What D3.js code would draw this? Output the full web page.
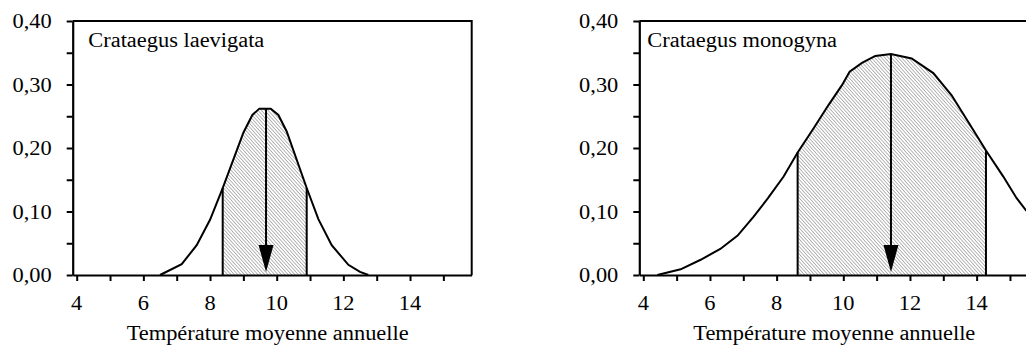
<!DOCTYPE html>
<html>
<head>
<meta charset="utf-8">
<script src="https://cdn.jsdelivr.net/npm/d3@7"></script>
<style>
  body { margin: 0; background: #fff; }
  svg text { font-family: "Liberation Serif", "Times New Roman", serif; font-size: 20px; fill: #000; }
</style>
</head>
<body>
<div id="chart"></div>
<script>
// values
const laevX = [6.5, 7.15, 7.6, 8.0, 8.38, 9.0, 9.27, 9.48, 9.82, 10.05, 10.3, 10.9, 11.25, 11.65, 12.15, 12.5, 12.75];
const laevY = [0, 0.017, 0.047, 0.087, 0.137, 0.224, 0.252, 0.262, 0.262, 0.252, 0.226, 0.137, 0.088, 0.047, 0.016, 0.005, 0];
const monoX = [4.42, 5.12, 5.72, 6.31, 6.83, 7.31, 7.74, 8.21, 8.63, 9.11, 9.56, 9.96, 10.19, 10.56, 10.96, 11.43, 12.05, 12.7, 13.25, 13.75, 14.28, 14.8, 15.2, 15.48, 15.9];
const monoY = [0, 0.009, 0.024, 0.041, 0.062, 0.092, 0.121, 0.155, 0.193, 0.231, 0.268, 0.299, 0.32, 0.334, 0.345, 0.348, 0.341, 0.318, 0.283, 0.241, 0.196, 0.155, 0.121, 0.102, 0.085];
const titles = ["Crataegus laevigata", "Crataegus monogyna"];
const bands = [[8.38, 10.9], [8.63, 14.28]];   // hatched range
const arrows = [9.68, 11.43];                 // optimum
const xTicks = d3.range(4, 16);
const xLabels = [4, 6, 8, 10, 12, 14];
const yTicks = d3.range(0, 0.401, 0.05);
const yLabels = [0, 0.1, 0.2, 0.3, 0.4];
const xTitle = "Température moyenne annuelle";

const W = 1026, H = 345;
const plotW = 399, plotH = 254, plotTop = 21;
const panelLeft = [72.7, 639.3];
const titleOffset = [15.6, 8];
const stretch = 1.12;

const svg = d3.select("#chart").append("svg")
  .attr("width", W).attr("height", H);

// hatch pattern
const defs = svg.append("defs");
defs.append("pattern")
  .attr("id", "hatch")
  .attr("patternUnits", "userSpaceOnUse")
  .attr("width", 2.5).attr("height", 2.5)
  .attr("patternTransform", "rotate(-42)")
  .append("line")
    .attr("x1", 0).attr("y1", 0).attr("x2", 0).attr("y2", 2.5)
    .attr("stroke", "#555").attr("stroke-width", 0.85);

// widen text like the original
function widen(sel) {
  sel.each(function() {
    const w = this.getComputedTextLength();
    d3.select(this).attr("textLength", w * stretch).attr("lengthAdjust", "spacingAndGlyphs");
  });
}

const fmt = d => d3.format(".2f")(d).replace(".", ",");

// linear interpolation along the curve
function valueAt(xs, ys, v) {
  const i = d3.bisectLeft(xs, v);
  if (i <= 0) return ys[0];
  if (i >= xs.length) return ys[ys.length - 1];
  const t = (v - xs[i - 1]) / (xs[i] - xs[i - 1]);
  return ys[i - 1] + t * (ys[i] - ys[i - 1]);
}

const series = [[laevX, laevY], [monoX, monoY]];

series.forEach(([xs, ys], k) => {
  const g = svg.append("g").attr("transform", "translate(" + panelLeft[k] + "," + plotTop + ")");
  const x = d3.scaleLinear().domain([3.88, 15.85]).range([0, plotW]);
  const y = d3.scaleLinear().domain([0, 0.4]).range([plotH, 0]);
  const pts = xs.map((d, i) => [d, ys[i]]);

  // hatched area, clipped to band
  const clipId = "clip" + k;
  defs.append("clipPath").attr("id", clipId)
    .append("rect")
      .attr("x", x(bands[k][0])).attr("y", 0)
      .attr("width", x(bands[k][1]) - x(bands[k][0])).attr("height", plotH);

  g.append("path")
    .datum(pts)
    .attr("clip-path", "url(#" + clipId + ")")
    .attr("fill", "url(#hatch)")
    .attr("d", d3.area().x(d => x(d[0])).y0(y(0)).y1(d => y(d[1])));

  // band edges
  bands[k].forEach(b => {
    g.append("line")
      .attr("x1", x(b)).attr("x2", x(b))
      .attr("y1", y(0)).attr("y2", y(valueAt(xs, ys, b)))
      .attr("stroke", "#000").attr("stroke-width", 2);
  });

  // curve
  g.append("path")
    .datum(pts)
    .attr("fill", "none").attr("stroke", "#000").attr("stroke-width", 2)
    .attr("d", d3.line().x(d => x(d[0])).y(d => y(d[1])));

  // arrow
  const ax = x(arrows[k]);
  const aTop = y(valueAt(xs, ys, arrows[k]));
  g.append("line")
    .attr("x1", ax).attr("x2", ax).attr("y1", aTop).attr("y2", plotH - 28)
    .attr("stroke", "#000").attr("stroke-width", 2);
  g.append("path")
    .attr("d", "M" + (ax - 7.5) + "," + (plotH - 30) + "L" + (ax + 7.5) + "," + (plotH - 30) + "L" + ax + "," + (plotH - 3) + "Z")
    .attr("fill", "#000");

  // frame: top and right
  g.append("path")
    .attr("d", "M0,0H" + plotW + "V" + plotH)
    .attr("fill", "none").attr("stroke", "#000").attr("stroke-width", 2);

  // y axis
  const yAxis = g.append("g")
    .call(d3.axisLeft(y).tickValues(yTicks).tickSize(6).tickSizeOuter(0).tickFormat(""));
  yAxis.select(".domain").attr("stroke-width", 2.2);
  yAxis.selectAll(".tick line").attr("stroke-width", 2);

  g.selectAll(".ylab")
    .data(yLabels)
    .enter().append("text")
      .attr("x", -21).attr("y", d => y(d)).attr("dy", "0.35em")
      .attr("text-anchor", "end")
      .text(fmt)
      .call(widen);

  // x axis
  const xAxis = g.append("g")
    .attr("transform", "translate(0," + plotH + ")")
    .call(d3.axisBottom(x).tickValues(xTicks).tickSize(6).tickSizeOuter(0).tickFormat(""));
  xAxis.select(".domain").attr("stroke-width", 2.2);
  xAxis.selectAll(".tick line").attr("stroke-width", 2);

  g.selectAll(".xlab")
    .data(xLabels)
    .enter().append("text")
      .attr("x", d => x(d)).attr("y", plotH + 35)
      .attr("text-anchor", "middle")
      .text(d => d)
      .call(widen);

  g.append("text")
    .attr("x", 195).attr("y", plotH + 65)
    .attr("text-anchor", "middle")
    .text(xTitle)
    .call(widen);

  g.append("text")
    .attr("x", titleOffset[k]).attr("y", 26)
    .text(titles[k])
    .call(widen);
});
</script>
</body>
</html>
